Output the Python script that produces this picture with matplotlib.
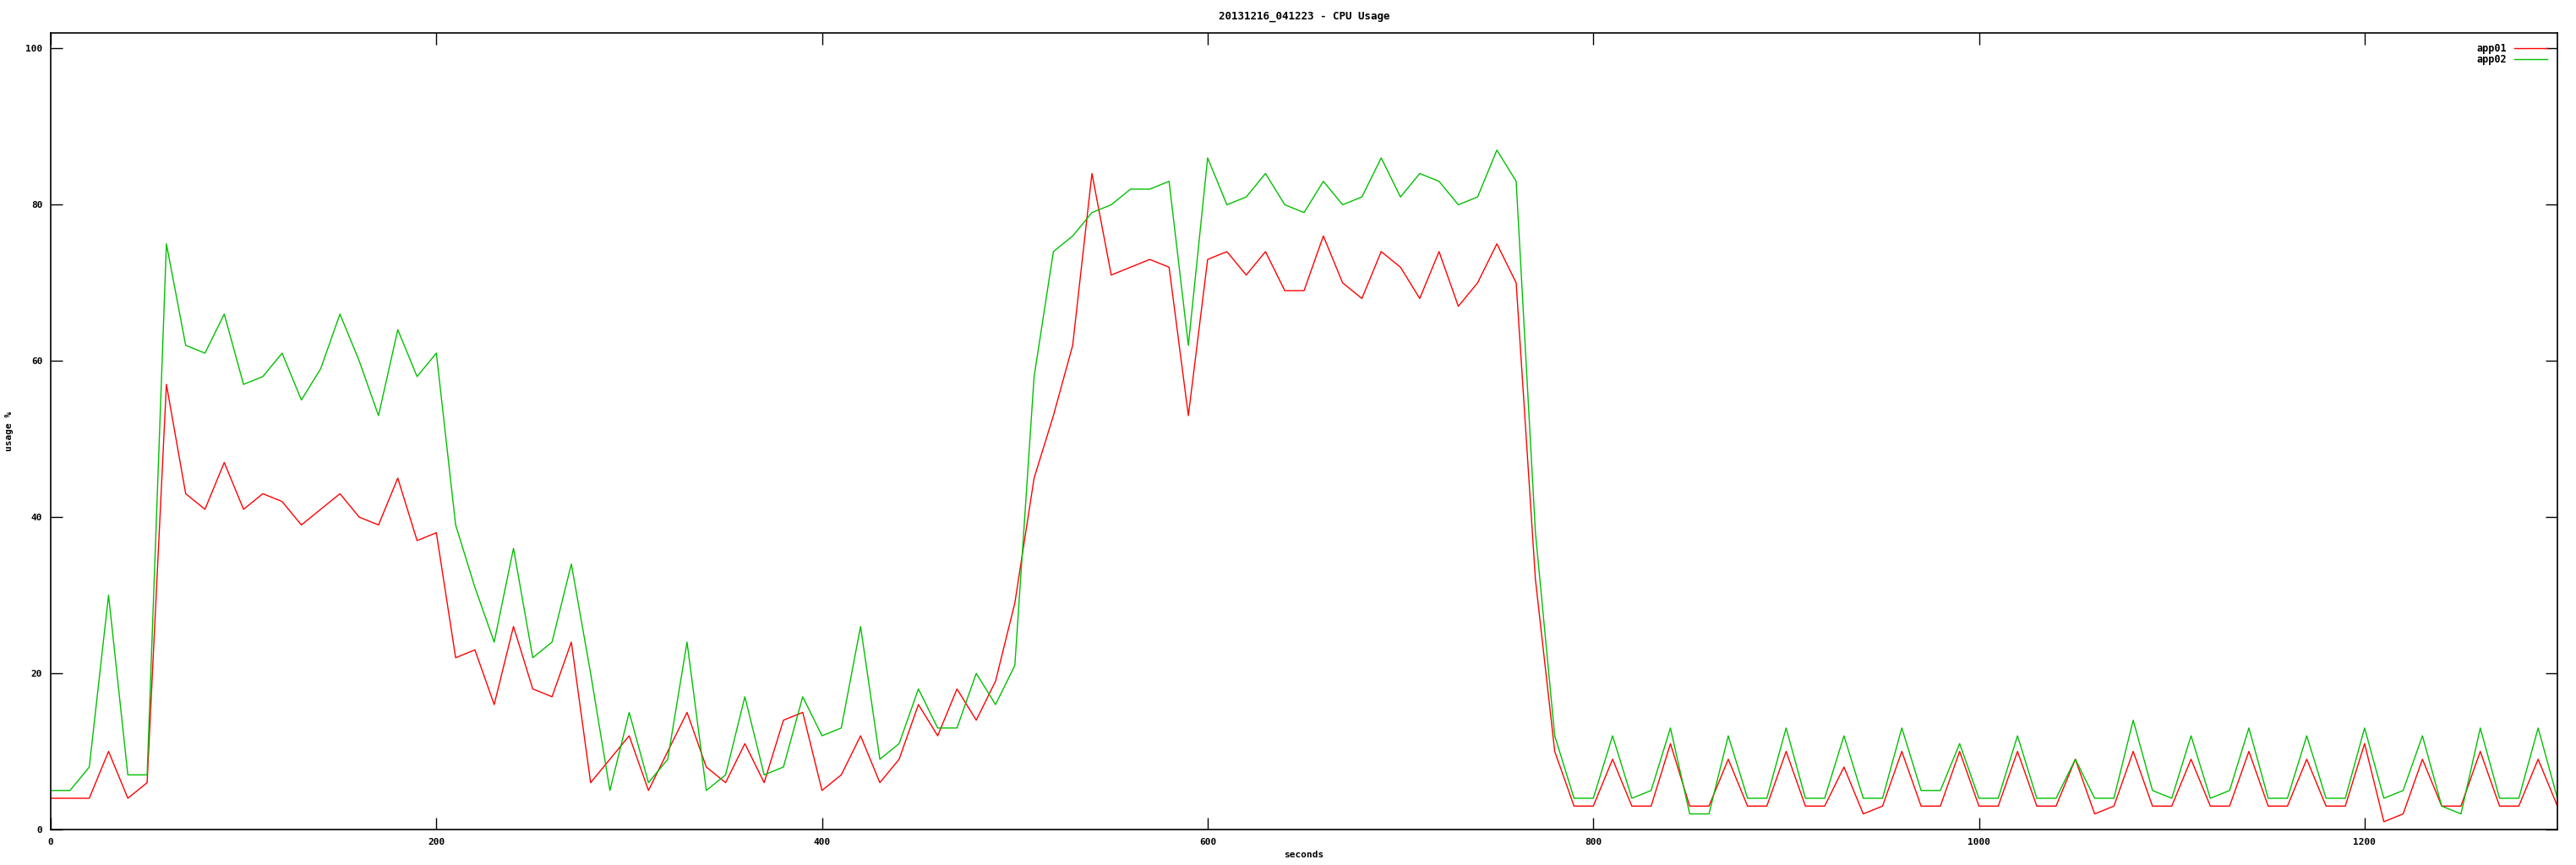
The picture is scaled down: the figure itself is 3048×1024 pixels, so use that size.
import matplotlib
matplotlib.use("Agg")
import matplotlib.pyplot as plt

# sample times (seconds)
seconds = list(range(0, 1310, 10))

# CPU usage %
app01 = [4, 4, 4, 10, 4, 6, 57, 43, 41, 47, 41, 43, 42, 39, 41, 43, 40, 39, 45, 37, 38,
         22, 23, 16, 26, 18, 17, 24, 6, 9, 12, 5, 10, 15, 8, 6, 11, 6, 14, 15, 5,
         7, 12, 6, 9, 16, 12, 18, 14, 19, 29, 45, 53, 62, 84, 71, 72, 73, 72, 53, 73,
         74, 71, 74, 69, 69, 76, 70, 68, 74, 72, 68, 74, 67, 70, 75, 70, 32, 10, 3, 3,
         9, 3, 3, 11, 3, 3, 9, 3, 3, 10, 3, 3, 8, 2, 3, 10, 3, 3, 10, 3,
         3, 10, 3, 3, 9, 2, 3, 10, 3, 3, 9, 3, 3, 10, 3, 3, 9, 3, 3, 11,
         1, 2, 9, 3, 3, 10, 3, 3, 9, 3]

app02 = [5, 5, 8, 30, 7, 7, 75, 62, 61, 66, 57, 58, 61, 55, 59, 66, 60, 53, 64, 58, 61,
         39, 31, 24, 36, 22, 24, 34, 20, 5, 15, 6, 9, 24, 5, 7, 17, 7, 8, 17, 12,
         13, 26, 9, 11, 18, 13, 13, 20, 16, 21, 58, 74, 76, 79, 80, 82, 82, 83, 62, 86,
         80, 81, 84, 80, 79, 83, 80, 81, 86, 81, 84, 83, 80, 81, 87, 83, 38, 12, 4, 4,
         12, 4, 5, 13, 2, 2, 12, 4, 4, 13, 4, 4, 12, 4, 4, 13, 5, 5, 11, 4,
         4, 12, 4, 4, 9, 4, 4, 14, 5, 4, 12, 4, 5, 13, 4, 4, 12, 4, 4, 13,
         4, 5, 12, 3, 2, 13, 4, 4, 13, 4]

x_ticks = [0, 200, 400, 600, 800, 1000, 1200]
y_ticks = [0, 20, 40, 60, 80, 100]

plt.rcParams["font.family"] = "DejaVu Sans Mono"
plt.rcParams["font.weight"] = "bold"

fig = plt.figure(figsize=(30.48, 10.24), dpi=100)
ax = fig.add_axes([60 / 3048, 1 - 982 / 1024, (3026 - 60) / 3048, (982 - 39) / 1024])

ax.plot(seconds, app01, color="#ff0000", lw=1.0, label="app01")
ax.plot(seconds, app02, color="#00c000", lw=1.0, label="app02")

ax.set_xlim(0, 1300)
ax.set_ylim(0, 102)
ax.set_xticks(x_ticks)
ax.set_yticks(y_ticks)
ax.tick_params(direction="in", length=10, width=1, top=True, right=True,
               labelsize=8, pad=7)
for s in ax.spines.values():
    s.set_linewidth(1.2)

ax.set_title("20131216_041223 - CPU Usage", fontsize=9, fontweight="bold", pad=12)
ax.set_xlabel("seconds", fontsize=8, fontweight="bold", labelpad=4)
ax.set_ylabel("usage %", fontsize=8, fontweight="bold", labelpad=10)

ax.legend(loc="upper right", frameon=False, markerfirst=False, fontsize=8.5,
          handlelength=3.3, handletextpad=0.8, labelspacing=0.05,
          borderaxespad=0.6, borderpad=0.4)

fig.savefig("out.png", dpi=100)
